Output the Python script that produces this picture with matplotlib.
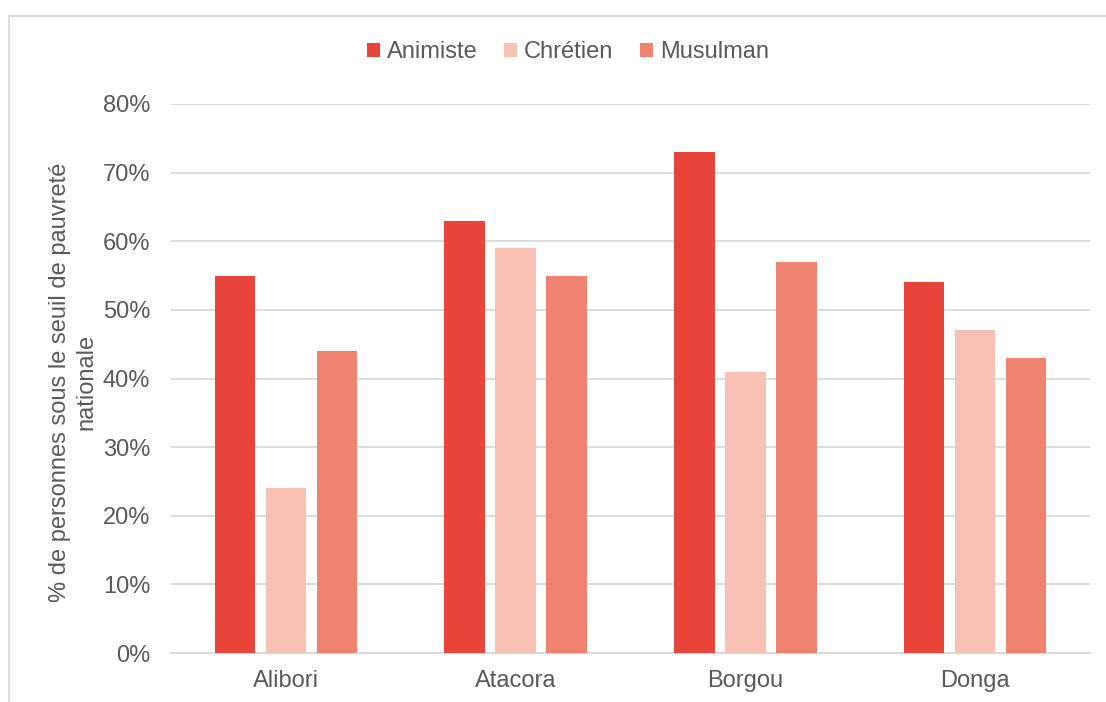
import matplotlib
matplotlib.use("Agg")
import matplotlib.pyplot as plt
from matplotlib.lines import Line2D
from matplotlib.patches import Patch
import numpy as np

plt.rcParams['font.family'] = ['Liberation Sans', 'DejaVu Sans']

categories = ["Alibori", "Atacora", "Borgou", "Donga"]
series_names = ["Animiste", "Chrétien", "Musulman"]
animiste = [0.55, 0.63, 0.73, 0.54]
chretien = [0.24, 0.59, 0.41, 0.47]
musulman = [0.44, 0.55, 0.57, 0.43]
colors = ["#E8443A", "#F8C1B3", "#F0836F"]
yticks = [0.0, 0.1, 0.2, 0.3, 0.4, 0.5, 0.6, 0.7, 0.8]
ylabel = "% de personnes sous le seuil de pauvreté\nnationale"

W, H = 1106, 702
fig = plt.figure(figsize=(W / 100, H / 100), dpi=100)
left, right, top, bottom = 171, 1090, 104, 653
ax = fig.add_axes([left / W, (H - bottom) / H, (right - left) / W, (bottom - top) / H])

text_color = "#595959"
grid_color = "#D9D9D9"
fs = 17

x = np.arange(len(categories))
bw = 0.176
step = 0.222
for i, (vals, name, c) in enumerate(zip([animiste, chretien, musulman], series_names, colors)):
    ax.bar(x + (i - 1) * step, vals, width=bw, color=c, label=name, zorder=3)

ax.set_xlim(-0.5, len(categories) - 0.5)
ax.set_ylim(0, 0.8)
ax.set_yticks(yticks)
ax.set_yticklabels([f"{int(round(v * 100))}%" for v in yticks])
ax.set_xticks(x)
ax.set_xticklabels(categories)
ax.tick_params(axis='both', length=0, labelsize=fs, colors=text_color)
ax.tick_params(axis='y', pad=15)
ax.tick_params(axis='x', pad=12)
ax.grid(axis='y', color=grid_color, linewidth=1.3, zorder=0)
for s in ["top", "right", "left"]:
    ax.spines[s].set_visible(False)
ax.spines["bottom"].set_color(grid_color)
ax.spines["bottom"].set_linewidth(1.3)

fig.text(73 / W, 1 - 382 / H, ylabel, rotation=90, ha='center', va='center',
         fontsize=fs, color=text_color, multialignment='center', linespacing=1.25)

handles = [Patch(facecolor=c, edgecolor='none') for c in colors]
fig.legend(handles, series_names, loc='center', bbox_to_anchor=(568 / W, 1 - 52 / H),
           ncol=3, frameon=False, fontsize=fs, handlelength=0.55, handleheight=0.55,
           handletextpad=0.3, columnspacing=1.1, labelcolor=text_color)

# chart border (top and left visible)
fig.add_artist(Line2D([9 / W, 1.0], [1 - 16 / H, 1 - 16 / H], color=grid_color, linewidth=1.3,
                      transform=fig.transFigure))
fig.add_artist(Line2D([9 / W, 9 / W], [0.0, 1 - 16 / H], color=grid_color, linewidth=1.3,
                      transform=fig.transFigure))

fig.savefig("out.png", dpi=100)
